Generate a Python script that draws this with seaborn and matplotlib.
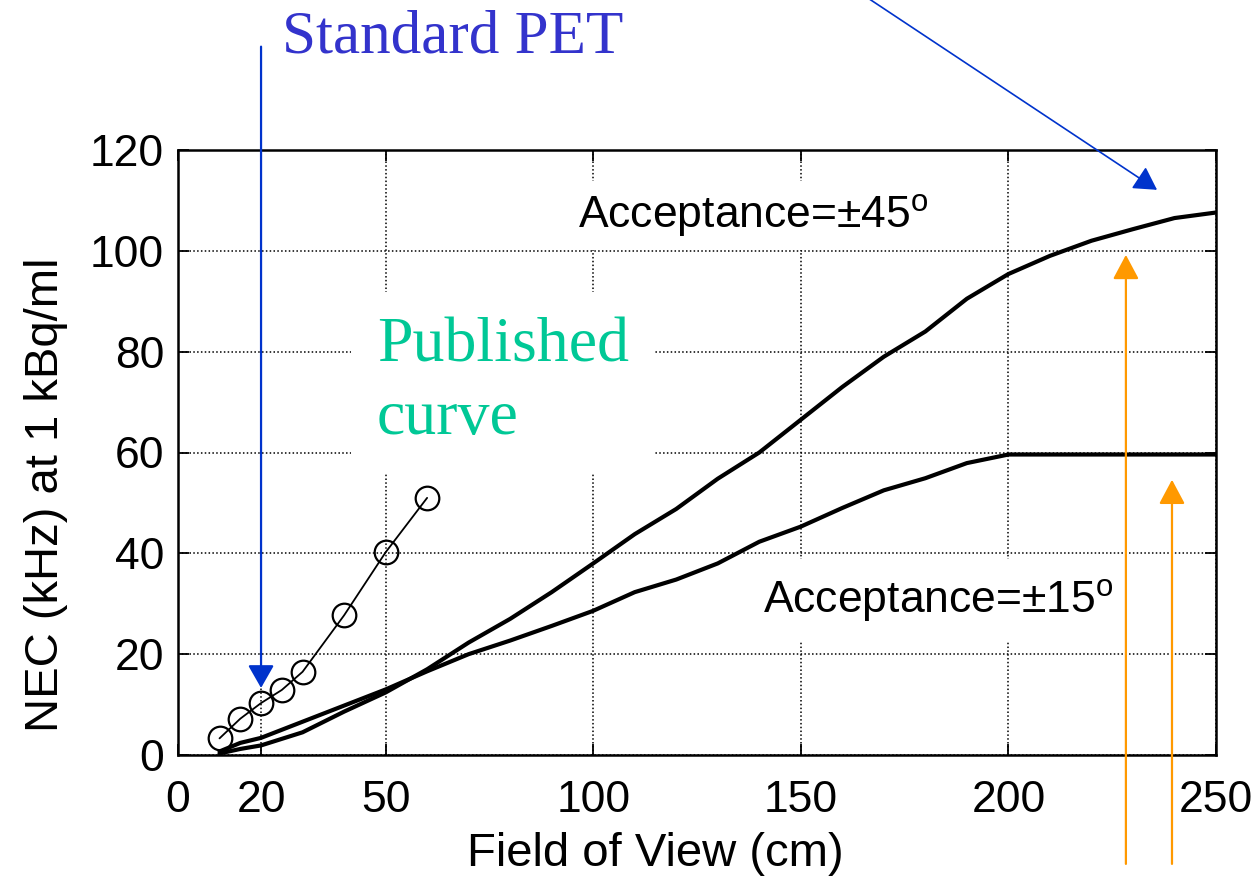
import matplotlib
matplotlib.use("Agg")
import matplotlib.pyplot as plt
import seaborn as sns

# ---------------- data ----------------
fov_sim = [10, 15, 20, 30, 40, 50, 60, 70, 80, 90, 100, 110, 120, 130, 140,
           150, 160, 170, 180, 190, 200, 210, 220, 230, 240, 250]
nec_45 = [0.3, 1.2, 1.9, 4.5, 8.6, 12.4, 17.0, 22.3, 27.0, 32.3, 38.0, 43.8,
          48.8, 54.8, 60.0, 66.5, 73.0, 79.0, 84.0, 90.5, 95.4, 99.0, 102.0,
          104.3, 106.5, 107.6]
nec_15 = [0.7, 2.4, 3.4, 6.6, 9.8, 13.0, 16.6, 20.0, 22.7, 25.6, 28.6, 32.3,
          34.8, 38.0, 42.3, 45.3, 49.0, 52.5, 54.9, 57.9, 59.6, 59.6, 59.6,
          59.6, 59.6, 59.6]
fov_pub = [10, 15, 20, 25, 30, 40, 50, 60]
nec_pub = [3.3, 7.2, 10.3, 12.9, 16.5, 27.7, 40.2, 51.0]

xticks = [0, 20, 50, 100, 150, 200, 250]
yticks = [0, 20, 40, 60, 80, 100, 120]

# ---------------- style ----------------
sns.set_theme(style="white")
plt.rcParams["font.family"] = ["Liberation Sans", "DejaVu Sans"]
plt.rcParams["mathtext.fontset"] = "custom"
plt.rcParams["mathtext.rm"] = "Liberation Sans"
plt.rcParams["mathtext.it"] = "Liberation Sans:italic"

fig = plt.figure(figsize=(12.56, 8.76), dpi=100)
ax = fig.add_axes([178 / 1256, 1 - 755 / 876, 1038 / 1256, 605 / 876])

sns.lineplot(x=fov_sim, y=nec_45, ax=ax, color="black", lw=3, zorder=2)
sns.lineplot(x=fov_sim, y=nec_15, ax=ax, color="black", lw=3, zorder=2)
sns.lineplot(x=fov_pub, y=nec_pub, ax=ax, color="black", lw=1.3,
             marker="o", markersize=17, markerfacecolor="none",
             markeredgecolor="black", markeredgewidth=1.6, zorder=2)

ax.set_xlim(0, 250)
ax.set_ylim(0, 120)
ax.set_xticks(xticks)
ax.set_yticks(yticks)
ax.set_xticklabels([str(t) for t in xticks])
ax.set_yticklabels([str(t) for t in yticks])

ax.grid(True, color="black", linestyle=(0, (1, 1.5)), lw=1.1)
ax.set_axisbelow(True)
for sp in ax.spines.values():
    sp.set_visible(True)
    sp.set_color("black")
    sp.set_linewidth(1.8)

ax.tick_params(axis="both", direction="in", length=8, width=1.3,
               top=True, right=True, bottom=True, left=True,
               labelsize=32, labelcolor="black", color="black")
ax.tick_params(axis="x", pad=18)
ax.tick_params(axis="y", pad=10)

ax.set_xlabel("Field of View (cm)", fontsize=34, color="black")
ax.set_ylabel("NEC (kHz) at 1 kBq/ml", fontsize=34, color="black")
ax.xaxis.set_label_coords(0.4595, -0.128)
ax.yaxis.set_label_coords(-0.106, 0.43)

# ---------------- annotations ----------------
box_small = dict(boxstyle="square,pad=0.25", fc="white", ec="none")
box = dict(boxstyle="square,pad=0.4", fc="white", ec="none")
ax.text(96.4, 104.6, "Acceptance=±45$^{\\mathrm{o}}$", fontsize=32,
        color="black", ha="left", va="baseline", bbox=box_small, zorder=3)
ax.text(140.8, 28.2, "Acceptance=±15$^{\\mathrm{o}}$", fontsize=32,
        color="black", ha="left", va="baseline", bbox=box, zorder=3)
ax.text(47.9, 63.7, "Published\ncurve", fontsize=46, color="#00C896",
        family="Liberation Serif", ha="left", va="baseline",
        linespacing=1.33, bbox=box, zorder=3)
ax.text(25.0, 139.3, "Standard PET", fontsize=44, color="#3333CC",
        family="Liberation Serif", ha="left", va="baseline", clip_on=False)

def arrow(x0, y0, x1, y1, color, lw, hl, hw):
    ax.annotate("", xy=(x1, y1), xytext=(x0, y0),
                arrowprops=dict(arrowstyle=f"-|>,head_length={hl},head_width={hw}",
                                mutation_scale=1, color=color, lw=lw,
                                shrinkA=0, shrinkB=0),
                annotation_clip=False, zorder=5)

arrow(20, 140.5, 20, 13.3, "#0033CC", 1.6, 14, 8)
arrow(165.5, 150.5, 235.8, 112.1, "#0033CC", 1.2, 14, 8)
arrow(228.3, -21.6, 228.3, 99.2, "#FF9900", 1.6, 15, 8)
arrow(239.4, -21.6, 239.4, 54.6, "#FF9900", 1.6, 15, 8)

fig.savefig("out.png", dpi=100)
